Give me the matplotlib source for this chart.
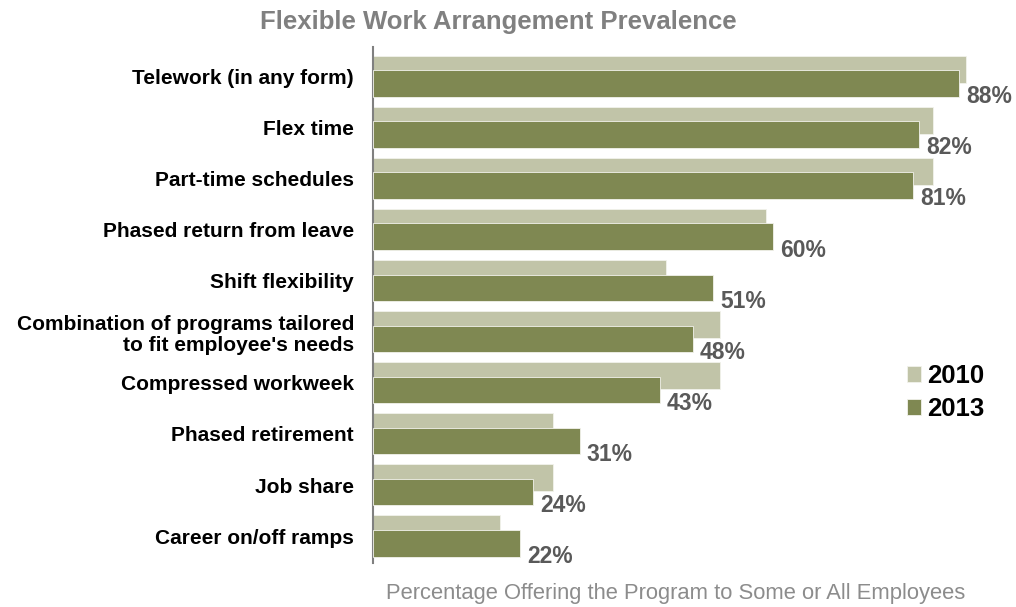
import numpy as np
import matplotlib
matplotlib.use("Agg")
import matplotlib.pyplot as plt

plt.rcParams['font.family'] = ['Liberation Sans', 'DejaVu Sans']

categories = [
    "Telework (in any form)",
    "Flex time",
    "Part-time schedules",
    "Phased return from leave",
    "Shift flexibility",
    "Combination of programs tailored\nto fit employee's needs",
    "Compressed workweek",
    "Phased retirement",
    "Job share",
    "Career on/off ramps",
]
values_2010 = [89, 84, 84, 59, 44, 52, 52, 27, 27, 19]
values_2013 = [88, 82, 81, 60, 51, 48, 43, 31, 24, 22]
series_names = ["2010", "2013"]

c2010 = "#c1c4a8"
c2013 = "#7f8852"

fig = plt.figure(figsize=(10.16, 6.07), dpi=100)
ax = fig.add_axes([0.3676, 0.073, 0.616, 0.850])

y = np.arange(len(categories))
h10, h13 = 0.53, 0.52
off = 0.14

b10 = ax.barh(y - off, values_2010, height=h10, color=c2010,
              edgecolor="#f2f2ec", linewidth=0.6, label=series_names[0], zorder=2)
b13 = ax.barh(y + off, values_2013, height=h13, color=c2013,
              edgecolor="#f2f2ec", linewidth=0.6, label=series_names[1], zorder=3)

# value labels sit just past the end of each 2013 bar, at its lower edge
for yi, v in zip(y, values_2013):
    ax.annotate(f"{v}%", xy=(v, yi + off + h13 / 2), xytext=(7, 0),
                textcoords="offset pixels", ha="left", va="center",
                fontsize=16.5, fontweight="bold", color="#595959", zorder=4)

ax.set_xlim(0, 94)
ax.set_ylim(9.52, -0.58)
ax.set_yticks(y)
ax.set_yticklabels(categories, fontsize=15, fontweight="bold", color="black",
                   linespacing=1.15)
ax.tick_params(axis="y", length=0, pad=14)
ax.set_xticks([])
for s in ["top", "right", "bottom"]:
    ax.spines[s].set_visible(False)
ax.spines["left"].set_color("#808080")
ax.spines["left"].set_linewidth(1.5)

leg = ax.legend(loc="upper left", bbox_to_anchor=(0.815, 0.43), frameon=False,
                prop={"size": 18.5, "weight": "bold"}, handlelength=0.55,
                handleheight=0.55, handletextpad=0.25, labelspacing=0.36)

fig.text(0.49, 0.963, "Flexible Work Arrangement Prevalence", ha="center",
         va="center", fontsize=18.5, fontweight="bold", color="#808080")
fig.text(0.665, 0.023, "Percentage Offering the Program to Some or All Employees",
         ha="center", va="center", fontsize=15.8, color="#8c8c8c")

fig.savefig("out.png", dpi=100)
